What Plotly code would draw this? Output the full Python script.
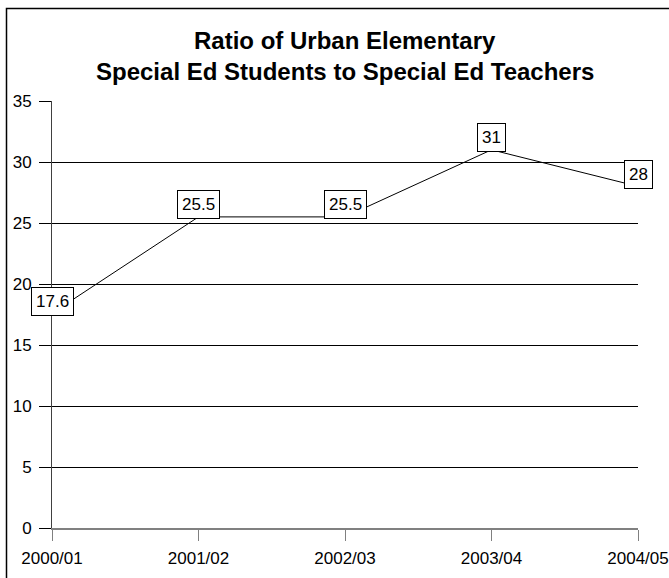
import plotly.graph_objects as go

# School years and student/teacher ratios
years = ["2000/01", "2001/02", "2002/03", "2003/04", "2004/05"]
ratios = [17.6, 25.5, 25.5, 31, 28]
value_labels = ["17.6", "25.5", "25.5", "31", "28"]

W, H = 669, 578
L, R, T, B = 52, 31, 101, 50
pw, ph = W - L - R, H - T - B

def px_x(p):
    return (p - L) / pw

def px_y(p):
    return (H - B - p) / ph

FONT = "Liberation Sans, Arial, sans-serif"

fig = go.Figure()
fig.add_trace(go.Scatter(
    x=years, y=ratios, mode="lines",
    line=dict(color="black", width=1),
    hoverinfo="skip", showlegend=False,
))

# boxed value labels above each point
for yr, v, txt in zip(years, ratios, value_labels):
    fig.add_annotation(
        x=yr, y=v, xref="x", yref="y", text=txt, showarrow=False,
        yshift=12, font=dict(family=FONT, size=17, color="black"),
        bgcolor="white", bordercolor="black", borderwidth=1, borderpad=4,
    )

# two-line bold title
for line, base in [("Ratio of Urban Elementary", 40), ("Special Ed Students to Special Ed Teachers", 72)]:
    fig.add_annotation(
        x=0.5, y=px_y(base), xref="paper", yref="paper", text="<b>%s</b>" % line,
        showarrow=False, xanchor="center", yanchor="middle",
        font=dict(family=FONT, size=24, color="black"),
    )

# outer chart frame (left and top edges visible)
fig.add_shape(type="rect", xref="paper", yref="paper",
              x0=px_x(6.5), x1=px_x(720), y0=px_y(8.5), y1=px_y(640),
              line=dict(color="black", width=1.5), fillcolor="rgba(0,0,0,0)", layer="below")

fig.update_layout(
    width=W, height=H,
    margin=dict(l=L, r=R, t=T, b=B, autoexpand=False),
    paper_bgcolor="white", plot_bgcolor="white",
    font=dict(family=FONT, size=17, color="black"),
    xaxis=dict(
        type="category", range=[0, len(years) - 1], automargin=False,
        showgrid=False, zeroline=False,
        showline=True, linecolor="#808080", linewidth=2,
        ticks="outside", ticklen=11, tickcolor="#808080", tickwidth=1,
        ticklabelstandoff=3,
        tickfont=dict(family=FONT, size=17, color="black"),
    ),
    yaxis=dict(
        range=[0, 35], dtick=5, tick0=0, automargin=False,
        showgrid=True, gridcolor="black", gridwidth=1,
        zeroline=False,
        showline=True, linecolor="#404040", linewidth=1,
        ticks="outside", ticklen=12, tickcolor="black", tickwidth=1,
        ticklabelstandoff=4,
        tickfont=dict(family=FONT, size=17, color="black"),
    ),
)

fig.write_html("out.html")
